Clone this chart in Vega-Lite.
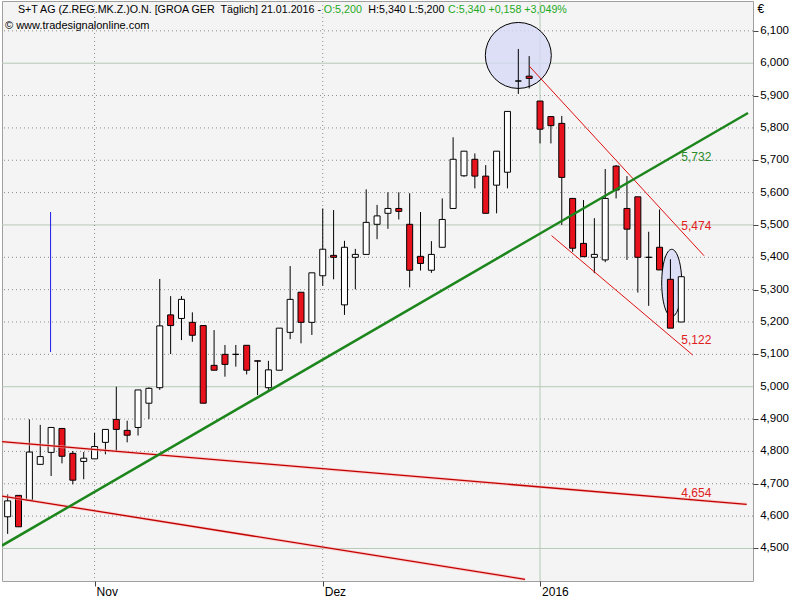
{
  "$schema": "https://vega.github.io/schema/vega-lite/v6.json",
  "width": 751,
  "height": 580,
  "autosize": {"type": "none"},
  "padding": {"left": 2, "top": 1, "right": 47, "bottom": 19},
  "background": "white",
  "config": {
    "locale": {"number": {"decimal": ",", "thousands": ".", "grouping": [3], "currency": ["", "€"]}},
    "view": {"stroke": "#a0a0a0", "fill": "#f4f4f4"},
    "font": "Liberation Sans",
    "text": {"font": "Liberation Sans"},
    "scale": {"continuousPadding": 0},
    "axis": {
      "labelOverlap": false, "labelFlush": false, "domain": false, "title": null, "grid": false,
      "ticks": true, "tickSize": 5, "tickColor": "#444",
      "labelColor": "#000", "labelFont": "Liberation Sans"
    },
    "axisX": {"labelAlign": "left", "labelBaseline": "top", "labelPadding": 0, "labelOffset": 1.5, "labelFontSize": 12},
    "axisY": {"labels": false}
  },
  "datasets": {
    "ohlc": [
      {"i":0,"o":4.598,"h":4.667,"l":4.545,"c":4.647},
      {"i":1,"o":4.664,"h":4.664,"l":4.567,"c":4.567},
      {"i":2,"o":4.649,"h":4.899,"l":4.649,"c":4.798},
      {"i":3,"o":4.760,"h":4.882,"l":4.760,"c":4.784},
      {"i":4,"o":4.797,"h":4.874,"l":4.724,"c":4.874},
      {"i":5,"o":4.871,"h":4.871,"l":4.763,"c":4.785},
      {"i":6,"o":4.794,"h":4.801,"l":4.698,"c":4.711},
      {"i":7,"o":4.769,"h":4.798,"l":4.714,"c":4.779},
      {"i":8,"o":4.777,"h":4.858,"l":4.777,"c":4.815},
      {"i":9,"o":4.828,"h":4.868,"l":4.791,"c":4.868},
      {"i":10,"o":4.899,"h":5.000,"l":4.802,"c":4.868},
      {"i":11,"o":4.865,"h":4.895,"l":4.828,"c":4.850},
      {"i":12,"o":4.874,"h":4.990,"l":4.849,"c":4.990},
      {"i":13,"o":4.949,"h":4.998,"l":4.900,"c":4.995},
      {"i":14,"o":4.997,"h":5.333,"l":4.990,"c":5.188},
      {"i":15,"o":5.222,"h":5.280,"l":5.101,"c":5.189},
      {"i":16,"o":5.211,"h":5.280,"l":5.144,"c":5.270},
      {"i":17,"o":5.199,"h":5.230,"l":5.139,"c":5.159},
      {"i":18,"o":5.189,"h":5.189,"l":4.949,"c":4.949},
      {"i":19,"o":5.066,"h":5.175,"l":5.051,"c":5.051},
      {"i":20,"o":5.100,"h":5.129,"l":5.031,"c":5.069},
      {"i":21,"o":5.100,"h":5.129,"l":5.062,"c":5.100},
      {"i":22,"o":5.128,"h":5.128,"l":5.038,"c":5.051},
      {"i":23,"o":5.080,"h":5.080,"l":4.974,"c":5.079},
      {"i":24,"o":4.997,"h":5.080,"l":4.990,"c":5.052},
      {"i":25,"o":5.051,"h":5.181,"l":5.051,"c":5.181},
      {"i":26,"o":5.168,"h":5.373,"l":5.147,"c":5.270},
      {"i":27,"o":5.292,"h":5.292,"l":5.134,"c":5.199},
      {"i":28,"o":5.199,"h":5.352,"l":5.160,"c":5.352},
      {"i":29,"o":5.343,"h":5.551,"l":5.312,"c":5.425},
      {"i":30,"o":5.406,"h":5.546,"l":5.332,"c":5.400},
      {"i":31,"o":5.253,"h":5.451,"l":5.222,"c":5.431},
      {"i":32,"o":5.400,"h":5.426,"l":5.301,"c":5.409},
      {"i":33,"o":5.409,"h":5.610,"l":5.409,"c":5.508},
      {"i":34,"o":5.502,"h":5.562,"l":5.456,"c":5.528},
      {"i":35,"o":5.536,"h":5.601,"l":5.488,"c":5.551},
      {"i":36,"o":5.551,"h":5.601,"l":5.517,"c":5.542},
      {"i":37,"o":5.502,"h":5.598,"l":5.307,"c":5.360},
      {"i":38,"o":5.403,"h":5.540,"l":5.359,"c":5.381},
      {"i":39,"o":5.360,"h":5.450,"l":5.352,"c":5.409},
      {"i":40,"o":5.431,"h":5.582,"l":5.431,"c":5.517},
      {"i":41,"o":5.551,"h":5.771,"l":5.551,"c":5.703},
      {"i":42,"o":5.652,"h":5.728,"l":5.649,"c":5.728},
      {"i":43,"o":5.703,"h":5.721,"l":5.613,"c":5.651},
      {"i":44,"o":5.651,"h":5.685,"l":5.536,"c":5.536},
      {"i":45,"o":5.623,"h":5.728,"l":5.536,"c":5.728},
      {"i":46,"o":5.663,"h":5.851,"l":5.613,"c":5.851},
      {"i":47,"o":5.945,"h":6.044,"l":5.905,"c":5.945},
      {"i":48,"o":5.960,"h":6.022,"l":5.922,"c":5.953},
      {"i":49,"o":5.883,"h":5.883,"l":5.752,"c":5.796},
      {"i":50,"o":5.835,"h":5.835,"l":5.752,"c":5.807},
      {"i":51,"o":5.814,"h":5.837,"l":5.500,"c":5.647},
      {"i":52,"o":5.582,"h":5.582,"l":5.417,"c":5.428},
      {"i":53,"o":5.443,"h":5.577,"l":5.402,"c":5.402},
      {"i":54,"o":5.400,"h":5.521,"l":5.351,"c":5.409},
      {"i":55,"o":5.392,"h":5.673,"l":5.385,"c":5.582},
      {"i":56,"o":5.682,"h":5.685,"l":5.582,"c":5.608},
      {"i":57,"o":5.551,"h":5.651,"l":5.392,"c":5.487},
      {"i":58,"o":5.587,"h":5.587,"l":5.291,"c":5.400},
      {"i":59,"o":5.400,"h":5.479,"l":5.250,"c":5.400},
      {"i":60,"o":5.431,"h":5.548,"l":5.361,"c":5.361},
      {"i":61,"o":5.332,"h":5.394,"l":5.181,"c":5.181},
      {"i":62,"o":5.200,"h":5.340,"l":5.200,"c":5.340}
    ],
    "lines": [
      {"id":"trend","i":-0.52,"p":4.509},
      {"id":"trend","i":68.14,"p":5.846},
      {"id":"chanUp","i":48.01,"p":5.991},
      {"id":"chanUp","i":64.09,"p":5.405},
      {"id":"chanLo","i":50.06,"p":5.467},
      {"id":"chanLo","i":63.05,"p":5.098},
      {"id":"longA","i":-0.52,"p":4.830},
      {"id":"longA","i":68.02,"p":4.6365},
      {"id":"longB","i":-0.52,"p":4.662},
      {"id":"longB","i":47.62,"p":4.4047}
    ],
    "labels": [
      {"t":"5,732","i":62,"p":5.710,"kind":"green"},
      {"t":"5,474","i":62,"p":5.497,"kind":"red"},
      {"t":"5,122","i":62,"p":5.144,"kind":"red"},
      {"t":"4,654","i":62,"p":4.672,"kind":"red"}
    ],
    "levels": [
      {"v":4.5,"major":true},{"v":4.6,"major":false},{"v":4.7,"major":false},{"v":4.8,"major":false},
      {"v":4.9,"major":false},{"v":5.0,"major":true},{"v":5.1,"major":false},{"v":5.2,"major":false},
      {"v":5.3,"major":false},{"v":5.4,"major":false},{"v":5.5,"major":true},{"v":5.6,"major":false},
      {"v":5.7,"major":false},{"v":5.8,"major":false},{"v":5.9,"major":false},{"v":6.0,"major":true},
      {"v":6.1,"major":false}
    ],
    "months": [
      {"i":8,"major":false},{"i":29,"major":false},{"i":49,"major":true}
    ]
  },
  "layer": [
    {
      "data": {"name": "levels"},
      "transform": [{"filter": "!datum.major"}],
      "mark": {"type": "rule", "color": "#8c8c8c", "strokeWidth": 1, "strokeDash": [1, 3]},
      "encoding": {
        "y": {"field": "v", "type": "quantitative",
          "scale": {"domain": [4.3994, 6.1923], "zero": false, "nice": false, "padding": 0},
          "axis": {
            "orient": "right", "values": [4.5,4.6,4.7,4.8,4.9,5.0,5.1,5.2,5.3,5.4,5.5,5.6,5.7,5.8,5.9,6.0,6.1],
            "labels": false, "title": "€", "titleAngle": 0, "titleX": 4, "titleY": 2,
            "titleAlign": "left", "titleBaseline": "top", "titleFontSize": 12, "titleFontWeight": "normal",
            "titleFont": "Liberation Sans", "titleColor": "#000"
          }}
      }
    },
    {
      "data": {"name": "levels"},
      "transform": [{"filter": "datum.major"}],
      "mark": {"type": "rule", "color": "#b6c9b6", "strokeWidth": 1},
      "encoding": {
        "y": {"field": "v", "type": "quantitative", "scale": {"domain": [4.3994, 6.1923], "zero": false, "nice": false, "padding": 0}}
      }
    },
    {
      "data": {"name": "levels"},
      "mark": {"type": "text", "align": "left", "baseline": "middle", "fontSize": 11.5, "color": "#000", "clip": false},
      "encoding": {
        "x": {"datum": 69.26, "type": "quantitative", "scale": {"domain": [-0.52, 68.6], "zero": false, "nice": false, "padding": 0}},
        "y": {"field": "v", "type": "quantitative", "scale": {"domain": [4.3994, 6.1923], "zero": false, "nice": false, "padding": 0}},
        "text": {"field": "v", "type": "quantitative", "format": ".3f"}
      }
    },
    {
      "data": {"name": "months"},
      "transform": [{"filter": "!datum.major"}],
      "mark": {"type": "rule", "color": "#8c8c8c", "strokeWidth": 1, "strokeDash": [1, 3]},
      "encoding": {
        "x": {"field": "i", "type": "quantitative",
          "scale": {"domain": [-0.52, 68.6], "zero": false, "nice": false, "padding": 0},
          "axis": {
            "values": [8, 29, 49], "orient": "bottom", "title": null,
            "labelExpr": "datum.value == 8 ? 'Nov' : (datum.value == 29 ? 'Dez' : '2016')"
          }}
      }
    },
    {
      "data": {"name": "months"},
      "transform": [{"filter": "datum.major"}],
      "mark": {"type": "rule", "color": "#b6c9b6", "strokeWidth": 1},
      "encoding": {
        "x": {"field": "i", "type": "quantitative", "scale": {"domain": [-0.52, 68.6], "zero": false, "nice": false, "padding": 0}}
      }
    },
    {
      "data": {"values": [{"k": "c"}]},
      "mark": {"type": "point", "shape": "circle", "size": 4356, "filled": true, "fill": "#d6daf5", "fillOpacity": 0.8, "stroke": "#000", "strokeWidth": 1, "opacity": 1},
      "encoding": {
        "x": {"datum": 47.0, "type": "quantitative", "scale": {"domain": [-0.52, 68.6], "zero": false, "nice": false, "padding": 0}},
        "y": {"datum": 6.024, "type": "quantitative", "scale": {"domain": [4.3994, 6.1923], "zero": false, "nice": false, "padding": 0}}
      }
    },
    {
      "data": {"values": [{"k": "e"}]},
      "mark": {"type": "point", "shape": "M -0.297 0 A 0.297 1 0 1 0 0.297 0 A 0.297 1 0 1 0 -0.297 0 Z", "size": 4543, "filled": true, "fill": "#d6daf5", "fillOpacity": 0.8, "stroke": "#000", "strokeWidth": 1, "opacity": 1},
      "encoding": {
        "x": {"datum": 61.12, "type": "quantitative", "scale": {"domain": [-0.52, 68.6], "zero": false, "nice": false, "padding": 0}},
        "y": {"datum": 5.3206, "type": "quantitative", "scale": {"domain": [4.3994, 6.1923], "zero": false, "nice": false, "padding": 0}}
      }
    },
    {
      "data": {"name": "ohlc"},
      "mark": {"type": "rule", "color": "black", "strokeWidth": 1},
      "encoding": {
        "x": {"field": "i", "type": "quantitative", "scale": {"domain": [-0.52, 68.6], "zero": false, "nice": false, "padding": 0}},
        "y": {"field": "l", "type": "quantitative", "scale": {"domain": [4.3994, 6.1923], "zero": false, "nice": false, "padding": 0}},
        "y2": {"field": "h"}
      }
    },
    {
      "data": {"name": "ohlc"},
      "mark": {"type": "bar", "size": 6, "stroke": "#000", "strokeWidth": 1, "orient": "vertical"},
      "encoding": {
        "x": {"field": "i", "type": "quantitative", "scale": {"domain": [-0.52, 68.6], "zero": false, "nice": false, "padding": 0}},
        "y": {"field": "o", "type": "quantitative", "scale": {"domain": [4.3994, 6.1923], "zero": false, "nice": false, "padding": 0}},
        "y2": {"field": "c"},
        "fill": {"condition": {"test": "datum.c < datum.o", "value": "#e8121c"}, "value": "#ffffff"}
      }
    },
    {
      "data": {"values": [{"k": "b"}]},
      "mark": {"type": "rule", "stroke": "#1e1ee6", "color": "#1e1ee6", "strokeWidth": 1},
      "encoding": {
        "x": {"datum": 3.95, "type": "quantitative", "scale": {"domain": [-0.52, 68.6], "zero": false, "nice": false, "padding": 0}},
        "y": {"datum": 5.107, "type": "quantitative", "scale": {"domain": [4.3994, 6.1923], "zero": false, "nice": false, "padding": 0}},
        "y2": {"datum": 5.540}
      }
    },
    {
      "data": {"name": "lines"},
      "transform": [{"filter": "datum.id == 'longA' || datum.id == 'longB'"}],
      "mark": {"type": "line", "color": "#ffb4b4", "strokeWidth": 3, "opacity": 0.6, "clip": true},
      "encoding": {
        "x": {"field": "i", "type": "quantitative", "scale": {"domain": [-0.52, 68.6], "zero": false, "nice": false, "padding": 0}},
        "y": {"field": "p", "type": "quantitative", "scale": {"domain": [4.3994, 6.1923], "zero": false, "nice": false, "padding": 0}},
        "detail": {"field": "id"}
      }
    },
    {
      "data": {"name": "lines"},
      "transform": [{"filter": "datum.id == 'longA' || datum.id == 'longB'"}],
      "mark": {"type": "line", "color": "#c00000", "strokeWidth": 1.3, "clip": true},
      "encoding": {
        "x": {"field": "i", "type": "quantitative", "scale": {"domain": [-0.52, 68.6], "zero": false, "nice": false, "padding": 0}},
        "y": {"field": "p", "type": "quantitative", "scale": {"domain": [4.3994, 6.1923], "zero": false, "nice": false, "padding": 0}},
        "detail": {"field": "id"}
      }
    },
    {
      "data": {"name": "lines"},
      "transform": [{"filter": "datum.id == 'chanUp' || datum.id == 'chanLo'"}],
      "mark": {"type": "line", "color": "#e01010", "strokeWidth": 1, "clip": true},
      "encoding": {
        "x": {"field": "i", "type": "quantitative", "scale": {"domain": [-0.52, 68.6], "zero": false, "nice": false, "padding": 0}},
        "y": {"field": "p", "type": "quantitative", "scale": {"domain": [4.3994, 6.1923], "zero": false, "nice": false, "padding": 0}},
        "detail": {"field": "id"}
      }
    },
    {
      "data": {"name": "lines"},
      "transform": [{"filter": "datum.id == 'trend'"}],
      "mark": {"type": "line", "color": "#1c861c", "strokeWidth": 2.5, "clip": true},
      "encoding": {
        "x": {"field": "i", "type": "quantitative", "scale": {"domain": [-0.52, 68.6], "zero": false, "nice": false, "padding": 0}},
        "y": {"field": "p", "type": "quantitative", "scale": {"domain": [4.3994, 6.1923], "zero": false, "nice": false, "padding": 0}}
      }
    },
    {
      "data": {"name": "labels"},
      "mark": {"type": "text", "align": "left", "baseline": "middle", "fontSize": 12, "font": "Liberation Sans"},
      "encoding": {
        "x": {"field": "i", "type": "quantitative", "scale": {"domain": [-0.52, 68.6], "zero": false, "nice": false, "padding": 0}},
        "y": {"field": "p", "type": "quantitative", "scale": {"domain": [4.3994, 6.1923], "zero": false, "nice": false, "padding": 0}},
        "text": {"field": "t"},
        "color": {"condition": {"test": "datum.kind == 'green'", "value": "#2a8a2a"}, "value": "#e02020"}
      }
    },
    {
      "data": {"values": [{"k": "t1"}]},
      "mark": {"type": "text", "align": "left", "baseline": "middle", "fontSize": 10.7, "font": "Liberation Sans", "color": "#000"},
      "encoding": {
        "x": {"datum": 0.95, "type": "quantitative", "scale": {"domain": [-0.52, 68.6], "zero": false, "nice": false, "padding": 0}},
        "y": {"datum": 6.166, "type": "quantitative", "scale": {"domain": [4.3994, 6.1923], "zero": false, "nice": false, "padding": 0}},
        "text": {"value": "S+T AG (Z.REG.MK.Z.)O.N. [GROA GER \u00a0Täglich] 21.01.2016 -"}
      }
    },
    {
      "data": {"values": [{"k": "t2"}]},
      "mark": {"type": "text", "align": "left", "baseline": "middle", "fontSize": 10.7, "font": "Liberation Sans", "color": "#1faa1f"},
      "encoding": {
        "x": {"datum": 29.1, "type": "quantitative", "scale": {"domain": [-0.52, 68.6], "zero": false, "nice": false, "padding": 0}},
        "y": {"datum": 6.166, "type": "quantitative", "scale": {"domain": [4.3994, 6.1923], "zero": false, "nice": false, "padding": 0}},
        "text": {"value": "O:5,200"}
      }
    },
    {
      "data": {"values": [{"k": "t3"}]},
      "mark": {"type": "text", "align": "left", "baseline": "middle", "fontSize": 10.7, "font": "Liberation Sans", "color": "#000"},
      "encoding": {
        "x": {"datum": 33.2, "type": "quantitative", "scale": {"domain": [-0.52, 68.6], "zero": false, "nice": false, "padding": 0}},
        "y": {"datum": 6.166, "type": "quantitative", "scale": {"domain": [4.3994, 6.1923], "zero": false, "nice": false, "padding": 0}},
        "text": {"value": "H:5,340 L:5,200"}
      }
    },
    {
      "data": {"values": [{"k": "t4"}]},
      "mark": {"type": "text", "align": "left", "baseline": "middle", "fontSize": 10.7, "font": "Liberation Sans", "color": "#1faa1f"},
      "encoding": {
        "x": {"datum": 40.53, "type": "quantitative", "scale": {"domain": [-0.52, 68.6], "zero": false, "nice": false, "padding": 0}},
        "y": {"datum": 6.166, "type": "quantitative", "scale": {"domain": [4.3994, 6.1923], "zero": false, "nice": false, "padding": 0}},
        "text": {"value": "C:5,340 +0,158 +3,049%"}
      }
    },
    {
      "data": {"values": [{"k": "t5"}]},
      "mark": {"type": "text", "align": "left", "baseline": "middle", "fontSize": 11, "font": "Liberation Sans", "color": "#000"},
      "encoding": {
        "x": {"datum": -0.244, "type": "quantitative", "scale": {"domain": [-0.52, 68.6], "zero": false, "nice": false, "padding": 0}},
        "y": {"datum": 6.115, "type": "quantitative", "scale": {"domain": [4.3994, 6.1923], "zero": false, "nice": false, "padding": 0}},
        "text": {"value": "© www.tradesignalonline.com"}
      }
    }
  ]
}
